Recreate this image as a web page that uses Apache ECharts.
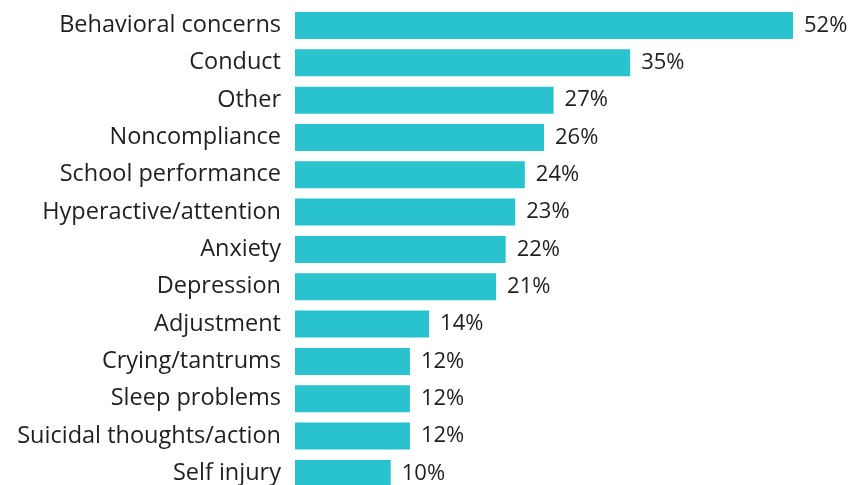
<!DOCTYPE html>
<html>
<head>
<meta charset="utf-8">
<script src="https://cdn.jsdelivr.net/npm/echarts@6/dist/echarts.min.js"></script>
<style>
  html, body { margin: 0; padding: 0; background: #ffffff; }
  #chart { width: 851px; height: 485px; }
</style>
</head>
<body>
<div id="chart"></div>
<script>
// Reasons for referral, share of cases (%)
const categories = [
  'Behavioral concerns', 'Conduct', 'Other', 'Noncompliance',
  'School performance', 'Hyperactive/attention', 'Anxiety', 'Depression',
  'Adjustment', 'Crying/tantrums', 'Sleep problems',
  'Suicidal thoughts/action', 'Self injury'
];
const shares = [52, 35, 27, 26, 24, 23, 22, 21, 14, 12, 12, 12, 10];

const FONT = '"Open Sans", "Noto Sans", sans-serif';
const chart = echarts.init(document.getElementById('chart'), null, { renderer: 'canvas' });

chart.setOption({
  animation: false,
  // the last row runs slightly past the bottom edge
  grid: {
    left: 295, width: 526.7, top: 6.8, height: 485.3,
    containLabel: false, outerBoundsMode: 'none'
  },
  xAxis: {
    type: 'value', min: 0, max: 55, show: false
  },
  yAxis: {
    type: 'category',
    data: categories,
    inverse: true,
    axisLine: { show: false },
    axisTick: { show: false },
    axisLabel: {
      margin: 14,
      color: '#1f1f1f',
      fontFamily: FONT,
      fontSize: 23.5,
      padding: [3, 0, 0, 0]
    }
  },
  series: [{
    type: 'bar',
    data: shares,
    barWidth: 27,
    itemStyle: { color: '#29C3CE' },
    label: {
      show: true,
      position: 'right',
      distance: 11,
      formatter: p => p.value + '%',
      color: '#1f1f1f',
      fontFamily: FONT,
      fontSize: 22,
      padding: [3, 0, 0, 0]
    }
  }]
});
</script>
</body>
</html>
